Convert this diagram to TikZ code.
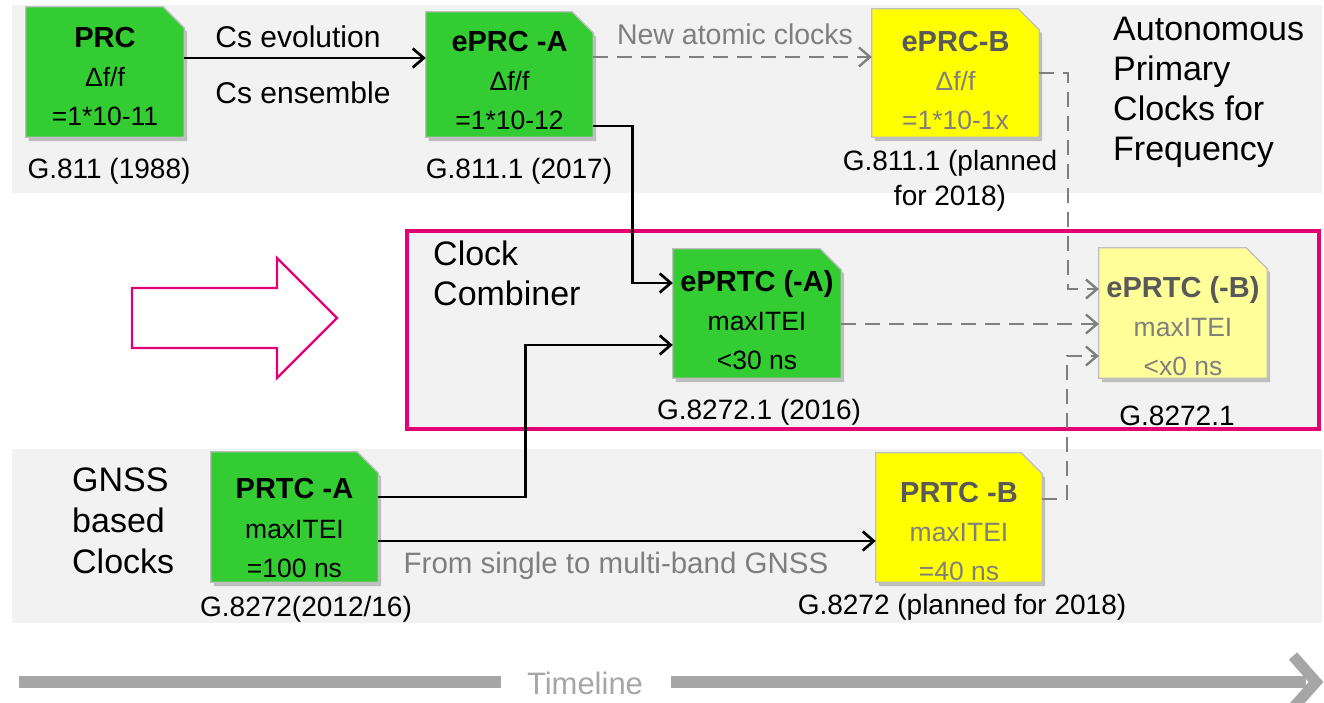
\documentclass[tikz,border=0pt]{standalone}
\usepackage{fontspec}
\setmainfont{Liberation Sans}
\usetikzlibrary{calc,arrows.meta,shadows}
\definecolor{tmag}{HTML}{E20074}
\definecolor{band}{HTML}{F2F2F2}
\definecolor{cgreen}{HTML}{33CC33}
\definecolor{cyel}{HTML}{FFFF00}
\definecolor{clyel}{HTML}{FFFF99}
\definecolor{boxline}{HTML}{BFBFBF}
\definecolor{dgray}{HTML}{595959}
\definecolor{mgray}{HTML}{7F7F7F}
\definecolor{tlgray}{HTML}{A6A6A6}
\newcommand\boxtitle[1]{{\fontsize{29}{39}\selectfont\bfseries #1}}
\newcommand\clockshape[2]{\path[draw=boxline,line width=1.3,fill=#2,drop shadow={shadow xshift=3pt,shadow yshift=-4pt,opacity=0.45}] (#1.south west) -- (#1.north west) -- ($(#1.north east)+(-21,0)$) -- ($(#1.north east)+(0,21)$) -- (#1.south east) -- cycle;}
\begin{document}
\begin{tikzpicture}[x=1pt,y=-1pt,
  bx/.style={inner sep=0pt,minimum width=167,minimum height=129},
  txt/.style={inner sep=0pt,align=center,font=\fontsize{26.5}{39}\selectfont},
  lbl/.style={inner sep=0pt,font=\fontsize{28}{34}\selectfont},
  big/.style={inner sep=0pt,align=left,anchor=west,font=\fontsize{34}{40}\selectfont},
  blk/.style={draw=black,line width=2.7,-{Straight Barb[length=11pt,width=19pt]}},
  gdash/.style={draw=mgray,line width=2.4,dash pattern=on 15pt off 9pt,-{Straight Barb[length=11pt,width=19pt]}}
]
\useasboundingbox (0,0) rectangle (1324,703);
% bands
\fill[band] (12,5) rectangle (1322,193);
\fill[band] (12,449) rectangle (1322,623);
\draw[tmag,line width=4,fill=band] (407,231) rectangle (1319,429);

% big hollow arrow
\draw[tmag,line width=2.2,line join=miter] (132,288) -- (277,288) -- (277,258) -- (337,318) -- (277,378) -- (277,348) -- (132,348) -- cycle;

% boxes
\node[bx,minimum width=158,minimum height=130] (prc) at (105,72) {};
\clockshape{prc}{cgreen}
\node[txt] (prct) at ($(prc)+(0,5)$) {\boxtitle{PRC}\\Δf/f\\=1*10-11};

\node[bx,minimum height=125] (eprca) at (509.5,74.5) {};
\clockshape{eprca}{cgreen}
\node[txt] (eprcat) at ($(eprca)+(0,6.5)$) {\boxtitle{ePRC -A}\\Δf/f\\=1*10-12};

\node[bx,minimum height=128] (eprcb) at (955.5,73) {};
\clockshape{eprcb}{cyel}
\node[txt,text=mgray] (eprcbt) at ($(eprcb)+(0,8)$) {\boxtitle{\color{dgray}ePRC-B}\\Δf/f\\=1*10-1x};

\node[bx,minimum width=168] (eprtca) at (757,313.5) {};
\clockshape{eprtca}{cgreen}
\node[txt] (eprtcat) at ($(eprtca)+(0,6.5)$) {\boxtitle{ePRTC (-A)}\\maxITEI\\<30 ns};

\node[bx,minimum width=168,minimum height=130] (eprtcb) at (1183,313) {};
\clockshape{eprtcb}{clyel}
\node[txt,text=mgray] (eprtcbt) at ($(eprtcb)+(0,13)$) {\boxtitle{\color{dgray}ePRTC (-B)}\\maxITEI\\<x0 ns};

\node[bx,minimum height=130] (prtca) at (294.5,517) {};
\clockshape{prtca}{cgreen}
\node[txt] (prtcat) at ($(prtca)+(0,11)$) {\boxtitle{PRTC -A}\\maxITEI\\=100 ns};

\node[bx,minimum width=166] (prtcb) at (959,517.5) {};
\clockshape{prtcb}{cyel}
\node[txt,text=mgray] (prtcbt) at ($(prtcb)+(0,14)$) {\boxtitle{\color{dgray}PRTC -B}\\maxITEI\\=40 ns};

% labels
\node[lbl,font=\fontsize{30}{36}\selectfont] (cse) at (298,37) {Cs evolution};
\node[lbl,font=\fontsize{30}{36}\selectfont] (csn) at (303,93) {Cs ensemble};
\node[lbl,text=mgray,font=\fontsize{28.5}{34}\selectfont] (nac) at (735,34) {New atomic clocks};
\node[lbl] (g1) at (109,171) {G.811 (1988)};
\node[lbl] (g2) at (519,171) {G.811.1 (2017)};
\node[lbl,align=center,font=\fontsize{28}{35}\selectfont] (g3) at (950,181) {G.811.1 (planned\\for 2018)};
\node[big] (apc) at (1113,92) {Autonomous\\Primary\\Clocks for\\Frequency};
\node[big] (ccb) at (433,273) {Clock\\Combiner};
\node[big,font=\fontsize{34}{41}\selectfont] (gns) at (72,521) {GNSS\\based\\Clocks};
\node[lbl] (g4) at (759,412) {G.8272.1 (2016)};
\node[lbl] (g5) at (1177,416) {G.8272.1};
\node[lbl,text=mgray,font=\fontsize{29.5}{36}\selectfont] (fsm) at (616,566) {From single to multi-band GNSS};
\node[lbl] (g6) at (306,609) {G.8272(2012/16)};
\node[lbl] (g7) at (962,607) {G.8272 (planned for 2018)};

% connectors
\coordinate (c1) at ([yshift=14pt]prc.east);
\draw[blk] (c1) -- (c1 -| eprca.west);
\coordinate (c2) at ([yshift=17.5pt]eprca.east);
\draw[gdash] (c2) -- (c2 -| eprcb.west);
\draw[blk] ([yshift=-51.5pt]eprca.east) -- ++(39,0) |- ([yshift=30.5pt]eprtca.west);
\draw[blk] ([yshift=20pt]prtca.east) -- ++(147,0) |- ([yshift=-31.5pt]eprtca.west);
\coordinate (c3) at ([yshift=-24pt]prtca.east);
\draw[blk] (c3) -- (c3 -| prtcb.west);
\draw[gdash] (eprcb.east) -- ++(29,0) |- ([yshift=24pt]eprtcb.west);
\coordinate (c4) at ([yshift=-10.5pt]eprtca.east);
\draw[gdash] (c4) -- (c4 -| eprtcb.west);
\draw[gdash] ([yshift=18.5pt]prtcb.east) -- ++(25,0) |- ([yshift=-43pt]eprtcb.west);

% timeline
\fill[tlgray] (19,676) rectangle (501,688);
\fill[tlgray] (671,676) rectangle (1306,688);
\draw[tlgray,line width=11,line join=miter] (1293,656) -- (1316,682) -- (1293,708);
\node[lbl,text=tlgray,font=\fontsize{31}{36}\selectfont] (tl) at (585,683) {Timeline};
\end{tikzpicture}
\end{document}
